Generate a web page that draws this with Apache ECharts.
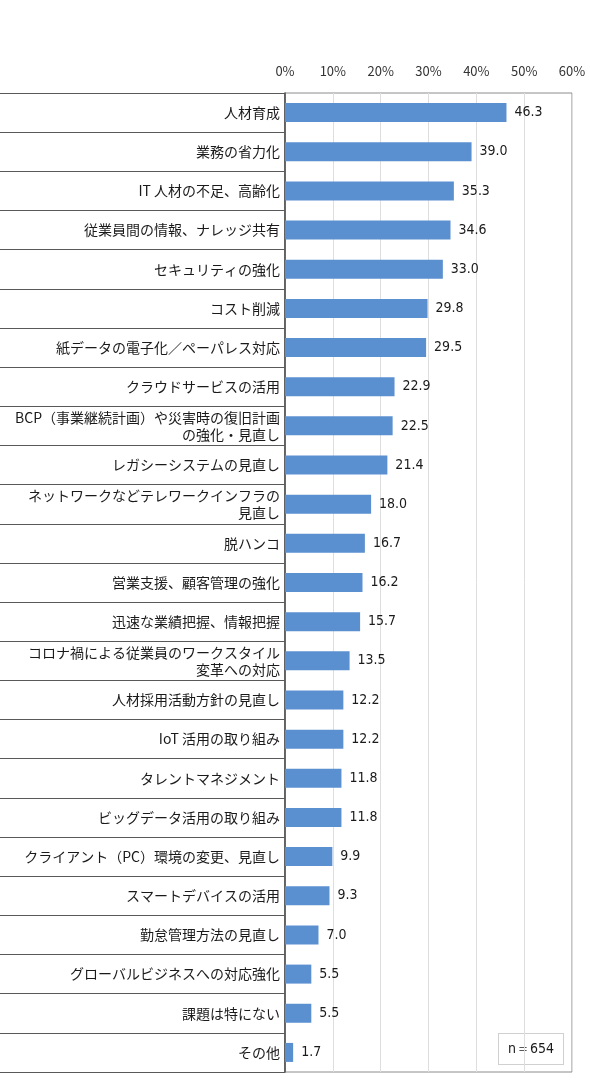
<!DOCTYPE html>
<html>
<head>
<meta charset="utf-8">
<script src="https://cdn.jsdelivr.net/npm/echarts@6/dist/echarts.min.js"></script>
<style>
  html, body { margin: 0; padding: 0; background: #ffffff; }
  #chart { width: 590px; height: 1086px; }
</style>
</head>
<body>
<div id="chart"></div>
<script>
// 項目（上から順）
var categories = [
    '人材育成',
    '業務の省力化',
    'IT 人材の不足、高齢化',
    '従業員間の情報、ナレッジ共有',
    'セキュリティの強化',
    'コスト削減',
    '紙データの電子化／ペーパレス対応',
    'クラウドサービスの活用',
    'BCP（事業継続計画）や災害時の復旧計画\nの強化・見直し',
    'レガシーシステムの見直し',
    'ネットワークなどテレワークインフラの\n見直し',
    '脱ハンコ',
    '営業支援、顧客管理の強化',
    '迅速な業績把握、情報把握',
    'コロナ禍による従業員のワークスタイル\n変革への対応',
    '人材採用活動方針の見直し',
    'IoT 活用の取り組み',
    'タレントマネジメント',
    'ビッグデータ活用の取り組み',
    'クライアント（PC）環境の変更、見直し',
    'スマートデバイスの活用',
    '勤怠管理方法の見直し',
    'グローバルビジネスへの対応強化',
    '課題は特にない',
    'その他'
];
var values = [46.3, 39.0, 35.3, 34.6, 33.0, 29.8, 29.5, 22.9, 22.5, 21.4, 18.0, 16.7, 16.2,
              15.7, 13.5, 12.2, 12.2, 11.8, 11.8, 9.9, 9.3, 7.0, 5.5, 5.5, 1.7];
var sampleNote = 'n＝654';

var JP_FONT = '"Noto Sans CJK JP", "Noto Sans", sans-serif';
var NUM_FONT = '"DejaVu Sans Condensed", "Liberation Sans Narrow", "Liberation Sans", sans-serif';

var chart = echarts.init(document.getElementById('chart'));

chart.setOption({
    backgroundColor: '#ffffff',
    animation: false,
    grid: {
        left: 285,
        right: 18,
        top: 93,
        bottom: 14,
        show: true,
        borderColor: '#8c8c8c',
        borderWidth: 1
    },
    xAxis: {
        type: 'value',
        position: 'top',
        min: 0,
        max: 60,
        interval: 10,
        axisLine: { show: false },
        axisTick: { show: false },
        axisLabel: {
            margin: 15,
            color: '#333333',
            fontSize: 13,
            fontFamily: JP_FONT,
            formatter: '{value}%'
        },
        splitLine: { show: true, lineStyle: { color: '#dedede', width: 1 } }
    },
    yAxis: {
        type: 'category',
        data: categories,
        inverse: true,
        axisLine: { show: true, lineStyle: { color: '#404040', width: 1.5 } },
        axisTick: {
            show: true,
            length: 285,
            lineStyle: { color: '#595959', width: 1.2 }
        },
        axisLabel: {
            margin: 5,
            color: '#1a1a1a',
            fontSize: 14,
            fontFamily: JP_FONT,
            lineHeight: 17,
            align: 'right'
        }
    },
    series: [{
        type: 'bar',
        data: values,
        barWidth: 19,
        itemStyle: { color: '#5a8fd0' },
        label: {
            show: true,
            position: 'right',
            distance: 8,
            color: '#1a1a1a',
            fontSize: 14,
            fontFamily: NUM_FONT,
            formatter: function (p) { return p.value.toFixed(1); }
        }
    }],
    graphic: [{
        type: 'text',
        left: 498,
        top: 1033,
        style: {
            text: sampleNote,
            font: '14px ' + NUM_FONT,
            fill: '#1a1a1a',
            backgroundColor: '#ffffff',
            borderColor: '#d0d0d0',
            borderWidth: 1,
            padding: [8, 9, 8, 9]
        }
    }]
});
</script>
</body>
</html>
